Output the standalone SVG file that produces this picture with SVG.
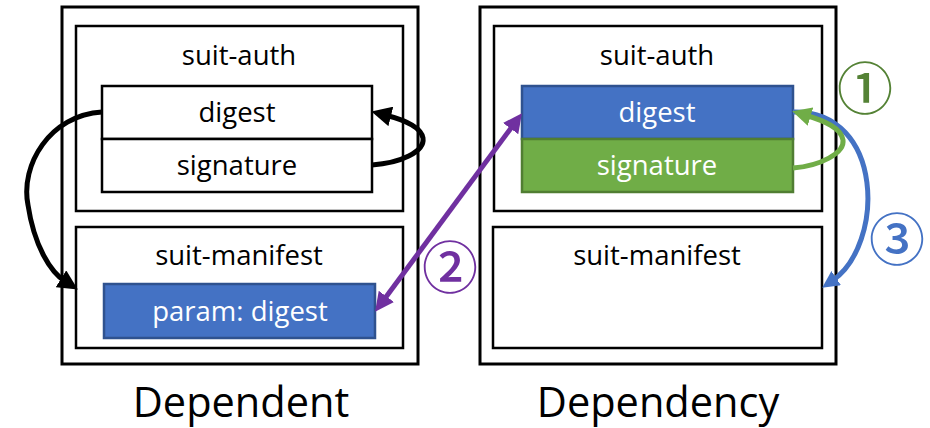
<svg xmlns="http://www.w3.org/2000/svg" width="930" height="428" viewBox="0 0 930 428">
  <style>
    .frame { fill: #fff; stroke: #000; stroke-width: 3; }
    .box { fill: #fff; stroke: #000; stroke-width: 2.5; }
    .blue { fill: #4472C4; stroke: #2F528F; stroke-width: 2.5; }
    .green { fill: #70AD47; stroke: #507E32; stroke-width: 2.5; }
    .t { font-family: "Open Sans", "Liberation Sans", sans-serif; font-size: 27.5px; text-anchor: middle; fill: #000; }
    .w { fill: #fff; }
    .title { font-family: "Open Sans", "Liberation Sans", sans-serif; font-size: 41.5px; text-anchor: middle; fill: #000; }
    .num { font-family: "Noto Sans CJK JP", "DejaVu Sans", sans-serif; font-size: 56px; font-weight: 500; text-anchor: middle; }
    .link { fill: none; stroke-width: 5; }
  </style>
  <defs>
    <marker id="head-black" viewBox="0 0 10 10" refX="3" refY="5" markerWidth="20" markerHeight="20" markerUnits="userSpaceOnUse" orient="auto">
      <path d="M0,0 L10,5 L0,10 z" fill="#000"/>
    </marker>
    <marker id="head-green" viewBox="0 0 10 10" refX="3" refY="5" markerWidth="19" markerHeight="19" markerUnits="userSpaceOnUse" orient="auto">
      <path d="M0,0 L10,5 L0,10 z" fill="#70AD47"/>
    </marker>
    <marker id="head-blue" viewBox="0 0 10 10" refX="3" refY="5" markerWidth="17" markerHeight="17" markerUnits="userSpaceOnUse" orient="auto">
      <path d="M0,0 L10,5 L0,10 z" fill="#4472C4"/>
    </marker>
    <marker id="head-purple" viewBox="0 0 10 10" refX="3" refY="5" markerWidth="19" markerHeight="19" markerUnits="userSpaceOnUse" orient="auto-start-reverse">
      <path d="M0,0 L10,5 L0,10 z" fill="#7030A0"/>
    </marker>
  </defs>

  <!-- Dependent envelope -->
  <g id="dependent">
    <rect class="frame" x="62" y="7" width="356" height="357"/>
    <text class="title" x="241" y="417">Dependent</text>
  </g>
  <g id="dependent-auth">
    <rect class="box" x="76" y="26" width="327" height="185"/>
    <text class="t" x="239" y="65">suit-auth</text>
  </g>
  <g id="dependent-digest">
    <rect class="box" x="102" y="86" width="270" height="53"/>
    <text class="t" x="237" y="122">digest</text>
  </g>
  <g id="dependent-signature">
    <rect class="box" x="102" y="139" width="270" height="53"/>
    <text class="t" x="237" y="175">signature</text>
  </g>
  <g id="dependent-manifest">
    <rect class="box" x="76" y="227" width="327" height="121"/>
    <text class="t" x="239" y="265">suit-manifest</text>
  </g>
  <g id="dependent-param">
    <rect class="blue" x="104" y="284" width="271" height="54"/>
    <text class="t w" x="240" y="321">param: digest</text>
  </g>

  <!-- Dependency envelope -->
  <g id="dependency">
    <rect class="frame" x="480" y="7" width="356" height="357"/>
    <text class="title" x="658" y="417">Dependency</text>
  </g>
  <g id="dependency-auth">
    <rect class="box" x="494" y="26" width="328" height="185"/>
    <text class="t" x="657" y="65">suit-auth</text>
  </g>
  <g id="dependency-digest">
    <rect class="blue" x="522" y="86" width="271" height="53"/>
    <text class="t w" x="657" y="122">digest</text>
  </g>
  <g id="dependency-signature">
    <rect class="green" x="522" y="139" width="271" height="53"/>
    <text class="t w" x="657" y="175">signature</text>
  </g>
  <g id="dependency-manifest">
    <rect class="box" x="493" y="227" width="329" height="121"/>
    <text class="t" x="657" y="265">suit-manifest</text>
  </g>

  <!-- Connectors -->
  <g id="connectors">
    <path class="link" stroke="#000" stroke-width="5.5" d="M102,112 C50,115 20,165 28,205 C34,245 50,272 66,282" marker-end="url(#head-black)"/>
    <path class="link" stroke="#000" stroke-width="5.5" d="M372,165 C400,163 425,152 423,138 C421,127 405,120 385,115" marker-end="url(#head-black)"/>
    <path class="link" stroke="#4472C4" stroke-width="4" d="M793,112 C885,110 885,245 832,281" marker-end="url(#head-blue)"/>
    <path class="link" stroke="#70AD47" stroke-width="5.5" d="M793,168 C820,166 845,153 843,140 C841,128 825,121 805,115" marker-end="url(#head-green)"/>
    <line class="link" stroke="#7030A0" x1="383" y1="301" x2="514" y2="124" marker-start="url(#head-purple)" marker-end="url(#head-purple)"/>
  </g>

  <!-- Step numbers -->
  <g id="step-labels">
    <text class="num" x="865" y="109" fill="#548235">①</text>
    <text class="num" x="450" y="288" fill="#7030A0">②</text>
    <text class="num" x="897" y="260" fill="#4472C4">③</text>
  </g>
</svg>
